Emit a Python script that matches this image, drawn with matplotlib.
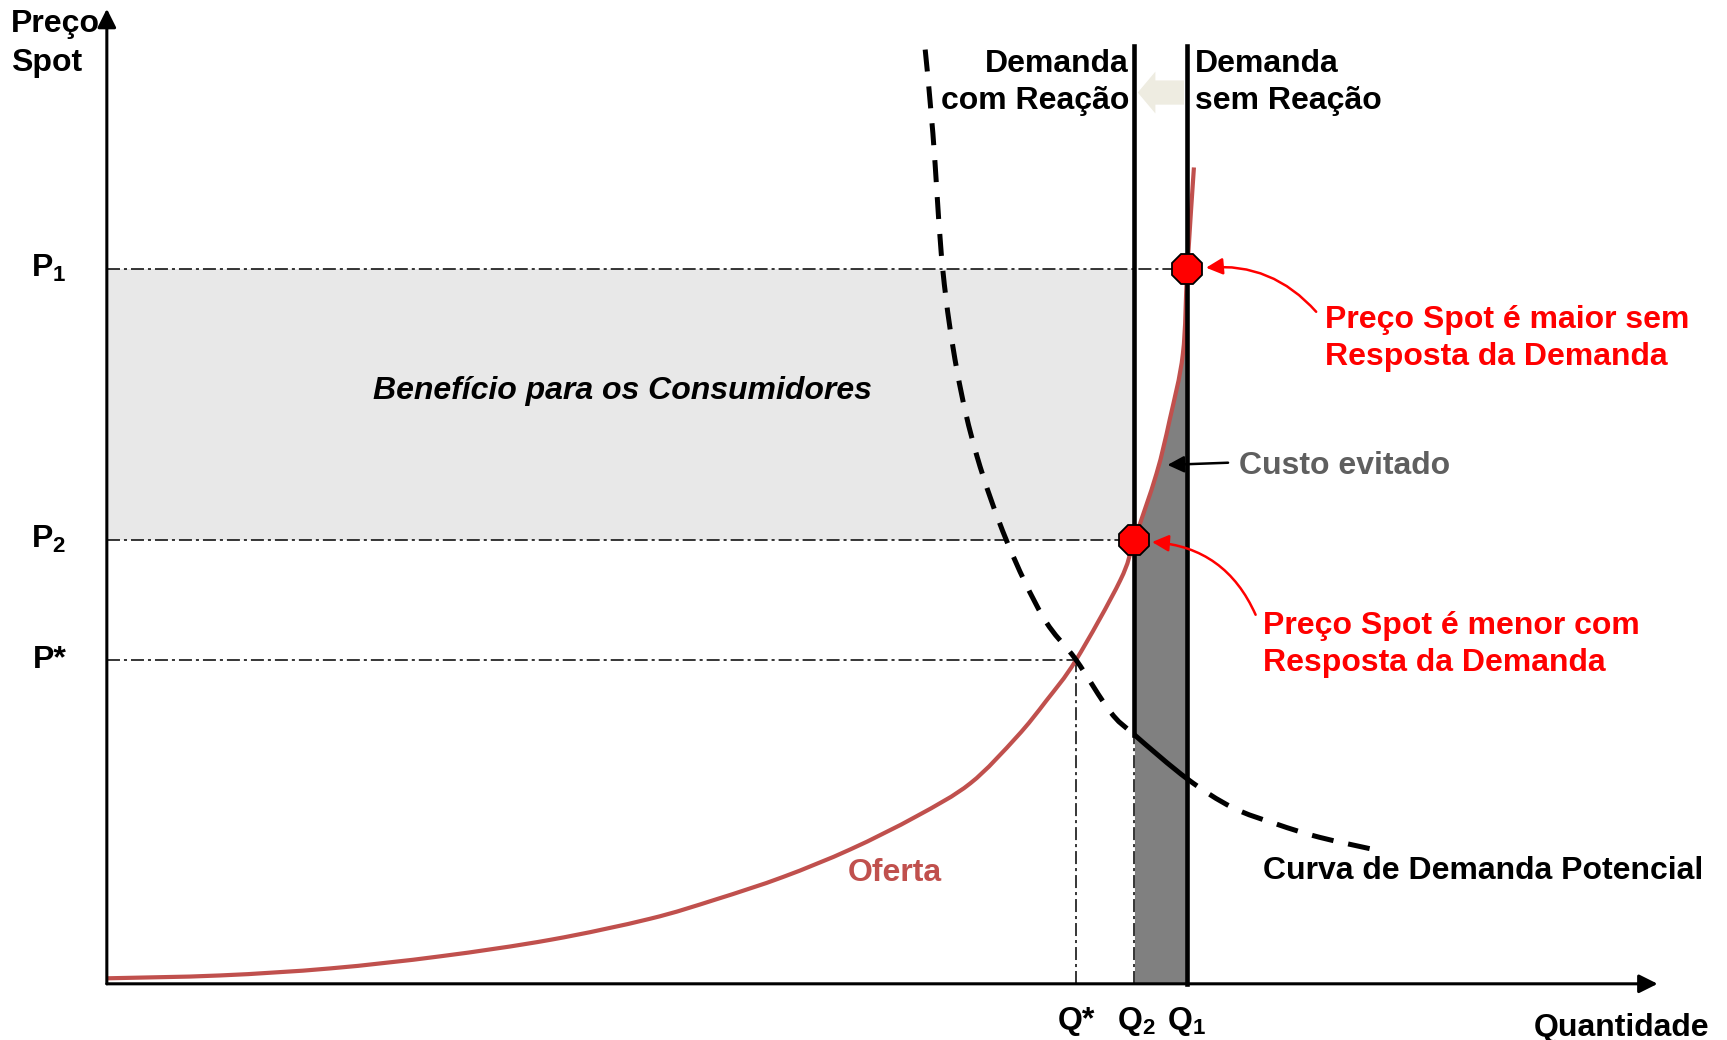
import numpy as np
import matplotlib
matplotlib.use("Agg")
import matplotlib.pyplot as plt
from matplotlib.patches import FancyArrow, PathPatch
from matplotlib.path import Path

plt.rcParams['font.family'] = ['Liberation Sans', 'DejaVu Sans']
plt.rcParams['mathtext.fontset'] = 'custom'
plt.rcParams['mathtext.bf'] = 'Liberation Sans:bold'
plt.rcParams['mathtext.rm'] = 'Liberation Sans:bold'
plt.rcParams['mathtext.default'] = 'bf'

# price / quantity levels
P1, P2, P_star = 64.9, 40.3, 29.4
Q1, Q2, Q_star = 98.1, 93.3, 88.0
top = 85.1

# supply curve (Oferta)
supply_q = [0.0, 10.3, 20.3, 30.3, 40.3, 49.3, 55.3, 61.4, 67.5, 73.5, 78.4,
            82.6, 85.3, 88.0, 92.0, 93.3, 95.3, 96.5, 97.7, 98.1, 98.7]
supply_p = [0.5, 0.76, 1.4, 2.5, 4.0, 5.9, 7.66, 9.7, 12.2, 15.2, 18.2,
            22.4, 25.7, 29.4, 36.6, 40.3, 46.3, 51.2, 57.2, 64.9, 74.1]

# potential demand curve
demand_q = [74.3, 75.0, 75.9, 77.2, 79.0, 81.7, 85.0, 88.0, 91.1, 93.3, 98.1,
            102.2, 106.2, 110.1, 115.9]
demand_p = [84.8, 77.2, 64.8, 55.6, 47.9, 40.2, 33.3, 29.4, 24.7, 22.6, 18.6,
            16.0, 14.5, 13.3, 12.0]


def smooth_path(x, y, i0=0, i1=None):
    # cubic bezier through the points (catmull-rom tangents), segments i0..i1
    pts = np.column_stack([x, y])
    n = len(pts)
    if i1 is None:
        i1 = n - 1
    verts = [pts[i0]]
    codes = [Path.MOVETO]
    for i in range(i0, i1):
        p0 = pts[max(i - 1, 0)]
        p1 = pts[i]
        p2 = pts[i + 1]
        p3 = pts[min(i + 2, n - 1)]
        verts += [p1 + (p2 - p0) / 6, p2 - (p3 - p1) / 6, p2]
        codes += [Path.CURVE4] * 3
    return Path(verts, codes)


fig = plt.figure(figsize=(17.27, 10.4), dpi=100)
ax = fig.add_axes([0, 0, 1, 1])
ax.set_xlim(-9.7, 147.1)
ax.set_ylim(-5.1, 89.3)
ax.axis('off')

sq = np.array(supply_q)
sp = np.array(supply_p)
dq = np.array(demand_q)
dp = np.array(demand_p)

# shaded areas
ax.fill_between([0, Q2], P2, P1, color='#E8E8E8', lw=0, zorder=1)
m = (sq >= Q2) & (sq <= Q1)
ax.fill_between(sq[m], 0, sp[m], color='#808080', lw=0, zorder=1)

# guide lines
dd = (0, (8.5, 2.6, 2, 2.6))
ax.plot([0, Q1], [P1, P1], color='black', lw=1.1, ls=dd, zorder=2)
ax.plot([0, Q2], [P2, P2], color='black', lw=1.1, ls=dd, zorder=2)
ax.plot([0, Q_star], [P_star, P_star], color='black', lw=1.1, ls=dd, zorder=2)
ax.plot([Q_star, Q_star], [0, P_star], color='black', lw=1.1, ls=dd, zorder=2)
i_q2 = int(np.where(dq == Q2)[0][0])
i_q1 = int(np.where(dq == Q1)[0][0])
d_at_q2 = dp[i_q2]
ax.plot([Q2, Q2], [0, d_at_q2], color='black', lw=1.1, ls=dd, zorder=2)

# supply
ax.add_patch(PathPatch(smooth_path(sq, sp), fill=False, edgecolor='#C0504D', lw=3.0, zorder=3))

# vertical demand lines
ax.plot([Q2, Q2], [d_at_q2, top], color='black', lw=3.3, zorder=4)
ax.plot([Q1, Q1], [0, top], color='black', lw=3.3, zorder=4)

# potential demand
dash = (0, (4.4, 3.0))
ax.add_patch(PathPatch(smooth_path(dq, dp, 0, i_q2), fill=False, edgecolor='black',
                       lw=3.6, ls=dash, zorder=4))
ax.add_patch(PathPatch(smooth_path(dq, dp, i_q2, i_q1), fill=False, edgecolor='black',
                       lw=3.6, zorder=4))
ax.add_patch(PathPatch(smooth_path(dq, dp, i_q1), fill=False, edgecolor='black',
                       lw=3.6, ls=(2.0, (4.4, 3.0)), zorder=4))

# equilibrium markers
ax.plot([Q1, Q2], [P1, P2], ls='none', marker='8', markersize=24,
        markerfacecolor='#FF0000', markeredgecolor='black', markeredgewidth=1.3, zorder=6)

# axes with arrows
ax.annotate('', xy=(0, 88.5), xytext=(0, 0),
            arrowprops=dict(arrowstyle='-|>', lw=2.2, color='black', mutation_scale=28,
                            shrinkA=0, shrinkB=0), zorder=5)
ax.annotate('', xy=(140.8, 0), xytext=(0, 0),
            arrowprops=dict(arrowstyle='-|>', lw=2.2, color='black', mutation_scale=28,
                            shrinkA=0, shrinkB=0), zorder=5)

# shift arrow
ax.add_patch(FancyArrow(97.8, 80.9, -2.6, 0, width=2.2, head_width=3.8, head_length=1.6,
                        length_includes_head=False, color='#EEECE1', lw=0, zorder=3))

# annotation arrows
red = '#FF0000'
ax.annotate('', xy=(99.8, 65.0), xytext=(109.8, 61.0),
            arrowprops=dict(arrowstyle='-|>', color=red, lw=1.8, mutation_scale=25,
                            shrinkA=0, shrinkB=0, connectionstyle='arc3,rad=0.25'), zorder=7)
ax.annotate('', xy=(94.9, 40.1), xytext=(104.3, 33.5),
            arrowprops=dict(arrowstyle='-|>', color=red, lw=1.8, mutation_scale=25,
                            shrinkA=0, shrinkB=0, connectionstyle='arc3,rad=0.3'), zorder=7)
ax.annotate('', xy=(96.3, 47.1), xytext=(101.8, 47.3),
            arrowprops=dict(arrowstyle='-|>', color='black', lw=1.8, mutation_scale=25,
                            shrinkA=0, shrinkB=0), zorder=7)

fs = 23
kw = dict(fontsize=fs, fontweight='bold')
ax.text(-8.7, 88.5, 'Preço\nSpot', ha='left', va='top', linespacing=1.4, **kw)
ax.text(-6.9, P1, 'P$_1$', ha='left', va='center', **kw)
ax.text(-6.9, P2, 'P$_2$', ha='left', va='center', **kw)
ax.text(-6.7, P_star, 'P*', ha='left', va='center', **kw)
ax.text(Q_star, -3.4, 'Q*', ha='center', va='center', **kw)
ax.text(Q2 + 0.2, -3.4, 'Q$_2$', ha='center', va='center', **kw)
ax.text(Q1 - 0.1, -3.4, 'Q$_1$', ha='center', va='center', **kw)
ax.text(145.5, -4.0, 'Quantidade', ha='right', va='center', **kw)

ax.text(92.8, 81.8, 'Demanda\ncom Reação', ha='right', va='center', multialignment='right',
        linespacing=1.3, **kw)
ax.text(98.8, 81.8, 'Demanda\nsem Reação', ha='left', va='center', linespacing=1.3, **kw)
ax.text(46.8, 53.8, 'Benefício para os Consumidores', ha='center', va='center',
        fontstyle='italic', **kw)
ax.text(102.8, 47.0, 'Custo evitado', ha='left', va='center', color='#5F5F5F', **kw)
ax.text(110.6, 58.6, 'Preço Spot é maior sem\nResposta da Demanda', ha='left', va='center',
        color=red, linespacing=1.3, **kw)
ax.text(105.0, 30.8, 'Preço Spot é menor com\nResposta da Demanda', ha='left', va='center',
        color=red, linespacing=1.3, **kw)
ax.text(71.5, 10.1, 'Oferta', ha='center', va='center', color='#C0504D', **kw)
ax.text(105.0, 10.2, 'Curva de Demanda Potencial', ha='left', va='center', **kw)

fig.savefig('out.png', dpi=100)
